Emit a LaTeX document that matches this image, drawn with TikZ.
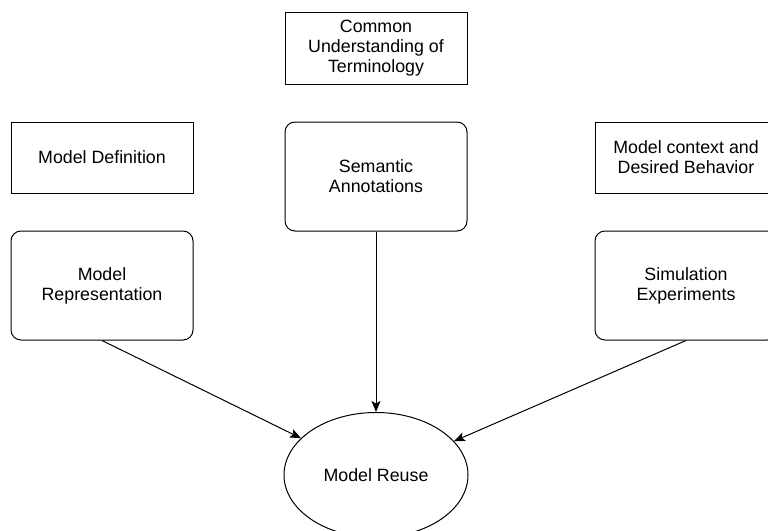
\documentclass[tikz,border=0pt]{standalone}
\usepackage{fontspec}
\setmainfont{Liberation Sans}
\usetikzlibrary{arrows.meta,shapes.geometric}
\begin{document}
\begin{tikzpicture}[x=1pt,y=-1pt,
  every node/.style={font=\fontsize{17.8}{20}\selectfont, align=center, inner sep=0pt},
  plainbox/.style={draw, line width=1pt, minimum width=182pt, minimum height=72pt},
  roundbox/.style={draw, line width=1pt, rounded corners=10pt, minimum width=182pt, minimum height=109pt},
  oval/.style={draw, line width=1pt, ellipse, minimum width=184pt, minimum height=125pt},
  link/.style={line width=1pt, -{Stealth[length=11pt,width=9pt,inset=2.5pt]}}]
\clip (0,0) rectangle (768,530);

\node[plainbox] (common) at (376,48) {Common\\Understanding of\\Terminology};
\node[roundbox] (sem) at (376,176.5) {Semantic\\Annotations};

\node[plainbox, minimum height=71pt] (def) at (102,157.5) {Model Definition};
\node[roundbox] (rep) at (102,285.5) {Model\\Representation};

\node[plainbox, minimum height=71pt] (ctx) at (686,157.5) {Model context and\\Desired Behavior};
\node[roundbox] (sim) at (686,285.5) {Simulation\\Experiments};

\node[oval] (reuse) at (376,475) {Model Reuse};

\draw[link] (rep.south) -- (reuse);
\draw[link] (sem.south) -- (reuse.north);
\draw[link] (sim.south) -- (reuse);
\end{tikzpicture}
\end{document}
